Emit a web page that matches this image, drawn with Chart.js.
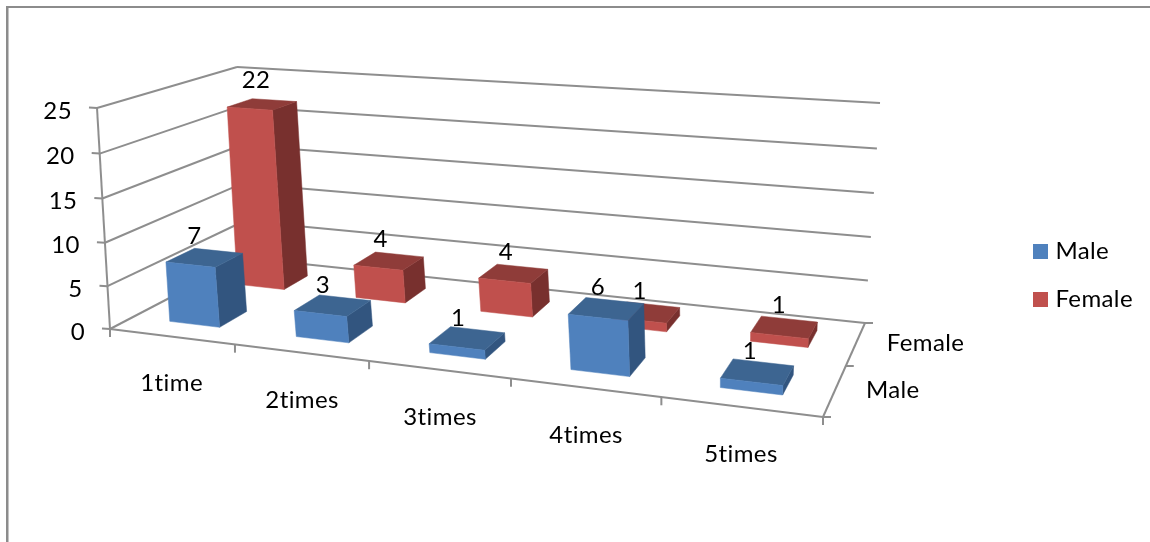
<!DOCTYPE html>
<html>
<head>
<meta charset="utf-8">
<style>
  html, body { margin: 0; padding: 0; background: #fff; }
  #wrap { position: relative; width: 1150px; height: 542px; overflow: hidden; }
</style>
<script src="https://cdn.jsdelivr.net/npm/chart.js@4/dist/chart.umd.min.js"></script>
</head>
<body>
<div id="wrap"><canvas id="chart" width="1150" height="542"></canvas></div>
<script>
// Attendance counts per gender
const categories = ['1time', '2times', '3times', '4times', '5times'];
const seriesNames = ['Male', 'Female'];
const maleValues = [7, 3, 1, 6, 1];
const femaleValues = [22, 4, 4, 1, 1];
const valueMax = 25;
const valueStep = 5;

const FONT_FAMILY = 'Lato, Carlito, sans-serif';
const FONT_SIZE = 24;
const FONT = FONT_SIZE + 'px ' + FONT_FAMILY;
const AXIS_COLOR = '#8e8e8e';
const TEXT_COLOR = '#000000';
const faceColors = [
  { front: '#4f81bd', top: '#3d6591', side: '#32557f' },
  { front: '#c0504d', top: '#8f3c39', side: '#78302e' }
];

// Corners of the perspective box: floor plane and the plane at the axis maximum,
// ordered front-left, front-right, back-right, back-left.
const floorQuad = [[110, 329], [823, 417], [865, 323], [246, 258]];
const ceilingQuad = [[97, 108], [838, 163], [880, 103], [237, 67]];
// Upper part of the box recedes slightly, so equal steps shrink towards the floor
const FORESHORTEN = 0.04;

function homography(q) {
  const [[x0, y0], [x1, y1], [x2, y2], [x3, y3]] = q;
  const dx1 = x1 - x2, dx2 = x3 - x2, sx = x0 - x1 + x2 - x3;
  const dy1 = y1 - y2, dy2 = y3 - y2, sy = y0 - y1 + y2 - y3;
  const den = dx1 * dy2 - dx2 * dy1;
  const g = (sx * dy2 - dx2 * sy) / den;
  const h = (dx1 * sy - sx * dy1) / den;
  const a = x1 - x0 + g * x1, b = x3 - x0 + h * x3;
  const d = y1 - y0 + g * y1, e = y3 - y0 + h * y3;
  return (u, v) => {
    const w = g * u + h * v + 1;
    return [(a * u + b * v + x0) / w, (d * u + e * v + y0) / w];
  };
}
const floorMap = homography(floorQuad);
const ceilingMap = homography(ceilingQuad);

// u: category position in slots, v: series position in rows, f: height as a fraction of the axis
function project(u, v, f) {
  const nu = u / categories.length, nv = v / seriesNames.length;
  const a = floorMap(nu, nv), b = ceilingMap(nu, nv);
  const t = f - FORESHORTEN * f * (1 - f);
  return [a[0] + (b[0] - a[0]) * t, a[1] + (b[1] - a[1]) * t];
}

// Helpers that turn library scale positions into box coordinates
function heightFraction(chart, value) {
  const y = chart.scales.y;
  return (y.bottom - y.getPixelForValue(value)) / (y.bottom - y.top);
}
function slotCentre(chart, index) {
  const x = chart.scales.x;
  return (x.getPixelForValue(index) - x.left) / x.width * categories.length;
}

function segment(ctx, a, b) {
  ctx.beginPath();
  ctx.moveTo(a[0], a[1]);
  ctx.lineTo(b[0], b[1]);
  ctx.stroke();
}
function face(ctx, pts, color) {
  ctx.beginPath();
  pts.forEach((p, i) => i ? ctx.lineTo(p[0], p[1]) : ctx.moveTo(p[0], p[1]));
  ctx.closePath();
  ctx.fillStyle = color;
  ctx.strokeStyle = color;
  ctx.lineWidth = 0.5;
  ctx.fill();
  ctx.stroke();
}

// Square legend swatch; a narrow layout width keeps the text close to it
function swatch(color) {
  const c = document.createElement('canvas');
  c.width = 15;
  c.height = 15;
  const g = c.getContext('2d');
  g.fillStyle = color;
  g.fillRect(0, 0, 15, 15);
  return c;
}

const BAR_HALF = 0.2;

// A bar chart whose bars are drawn as cuboids standing on the floor plane
class Bar3DController extends Chart.BarController {
  draw() {
    const chart = this.chart;
    const ctx = chart.ctx;
    const row = this.index;
    const colors = faceColors[row];
    const values = this.getDataset().data;
    ctx.save();
    values.forEach((value, i) => {
      const uc = slotCentre(chart, i);
      const u0 = uc - BAR_HALF, u1 = uc + BAR_HALF;
      const v0 = row + 0.3, v1 = row + 0.7;
      const f = heightFraction(chart, value);
      face(ctx, [project(u1, v0, 0), project(u1, v1, 0), project(u1, v1, f), project(u1, v0, f)], colors.side);
      face(ctx, [project(u0, v0, f), project(u1, v0, f), project(u1, v1, f), project(u0, v1, f)], colors.top);
      face(ctx, [project(u0, v0, 0), project(u1, v0, 0), project(u1, v0, f), project(u0, v0, f)], colors.front);
    });
    ctx.restore();
  }
}
Bar3DController.id = 'bar3d';
Bar3DController.defaults = Chart.BarController.defaults;
Bar3DController.overrides = Chart.BarController.overrides;
Chart.register(Bar3DController);

const boxFrame = {
  id: 'boxFrame',
  beforeUpdate(chart) {
    // Open the letterforms a little; also keeps "ti" from joining into a ligature
    chart.ctx.letterSpacing = '0.4px';
  },
  beforeDatasetsDraw(chart) {
    const ctx = chart.ctx;
    const n = categories.length, rows = seriesNames.length;
    const yScale = chart.scales.y;
    ctx.save();

    // Outer border of the chart object: only its top and left edges show
    ctx.fillStyle = '#8c8c8c';
    ctx.fillRect(6, 6, 1144, 2);
    ctx.fillRect(6, 6, 2, 536);
    ctx.fillStyle = '#c4c4c4';
    ctx.fillRect(8, 8, 1, 534);

    ctx.strokeStyle = AXIS_COLOR;
    ctx.lineWidth = 2;
    ctx.fillStyle = TEXT_COLOR;
    ctx.font = FONT;

    // Horizontal gridlines on both walls, value ticks and value labels
    ctx.textAlign = 'right';
    ctx.textBaseline = 'middle';
    yScale.ticks.forEach(t => {
      const f = heightFraction(chart, t.value);
      const front = project(0, 0, f), back = project(0, rows, f), right = project(n, rows, f);
      segment(ctx, front, back);
      segment(ctx, back, right);
      segment(ctx, [front[0] - 8, front[1] - 0.5], front);
      ctx.fillText(t.label, front[0] - 25, front[1] + 3);
    });

    // Value axis, floor edges
    segment(ctx, project(0, 0, 0), project(0, 0, 1));
    segment(ctx, project(0, 0, 0), project(n, 0, 0));
    segment(ctx, project(n, 0, 0), project(n, rows, 0));

    // Category ticks and labels
    ctx.textAlign = 'center';
    for (let i = 0; i <= n; i++) {
      const p = project(i, 0, 0);
      const nudge = i > 0 && i < n ? -2 : 0;
      segment(ctx, [p[0] + nudge, p[1]], [p[0] + nudge, p[1] + 8]);
    }
    categories.forEach((label, i) => {
      const p = project(slotCentre(chart, i), 0, 0);
      ctx.fillText(label, p[0] - 1, p[1] + 47);
    });

    // Series ticks and labels along the depth axis
    ctx.textAlign = 'left';
    for (let j = 0; j <= rows; j++) {
      const p = project(n, j, 0);
      segment(ctx, p, [p[0] + 8, p[1]]);
    }
    seriesNames.forEach((label, j) => {
      const p = project(n, j + 0.5, 0);
      ctx.fillText(label, p[0] + 31, p[1]);
    });
    ctx.restore();
  },
  afterDatasetsDraw(chart) {
    // Value labels above the back edge of each bar
    const ctx = chart.ctx;
    ctx.save();
    ctx.fillStyle = TEXT_COLOR;
    ctx.font = FONT;
    ctx.textAlign = 'center';
    ctx.textBaseline = 'middle';
    chart.data.datasets.forEach((ds, row) => {
      ds.data.forEach((value, i) => {
        const u = slotCentre(chart, i) - BAR_HALF + 0.028 * i + 0.015 * row + (value > 20 ? 0.02 : 0);
        const p = project(u, row + 0.7, heightFraction(chart, value));
        const lift = row === 0 ? 9 + value * 0.4 : 12 + value * 0.3;
        ctx.fillText(String(value), p[0], p[1] - lift);
      });
    });
    ctx.restore();
  }
};

new Chart(document.getElementById('chart'), {
  type: 'bar3d',
  data: {
    labels: categories,
    datasets: [
      { label: seriesNames[0], data: maleValues, backgroundColor: faceColors[0].front, clip: false },
      { label: seriesNames[1], data: femaleValues, backgroundColor: faceColors[1].front, clip: false }
    ]
  },
  options: {
    responsive: false,
    animation: false,
    events: [],
    layout: { padding: { top: 9, right: 7, bottom: 0, left: 20 } },
    scales: {
      x: { type: 'category', display: false, offset: true },
      y: { type: 'linear', display: false, min: 0, max: valueMax, ticks: { stepSize: valueStep } }
    },
    plugins: {
      tooltip: { enabled: false },
      legend: {
        position: 'right',
        labels: {
          usePointStyle: true,
          pointStyleWidth: 5,
          boxHeight: 15,
          padding: 24,
          color: TEXT_COLOR,
          font: { family: FONT_FAMILY, size: FONT_SIZE },
          generateLabels: chart => chart.data.datasets.map((ds, i) => ({
            text: ds.label,
            datasetIndex: i,
            fillStyle: ds.backgroundColor,
            strokeStyle: ds.backgroundColor,
            lineWidth: 0,
            pointStyle: swatch(ds.backgroundColor)
          }))
        }
      }
    }
  },
  plugins: [boxFrame]
});
</script>
</body>
</html>
